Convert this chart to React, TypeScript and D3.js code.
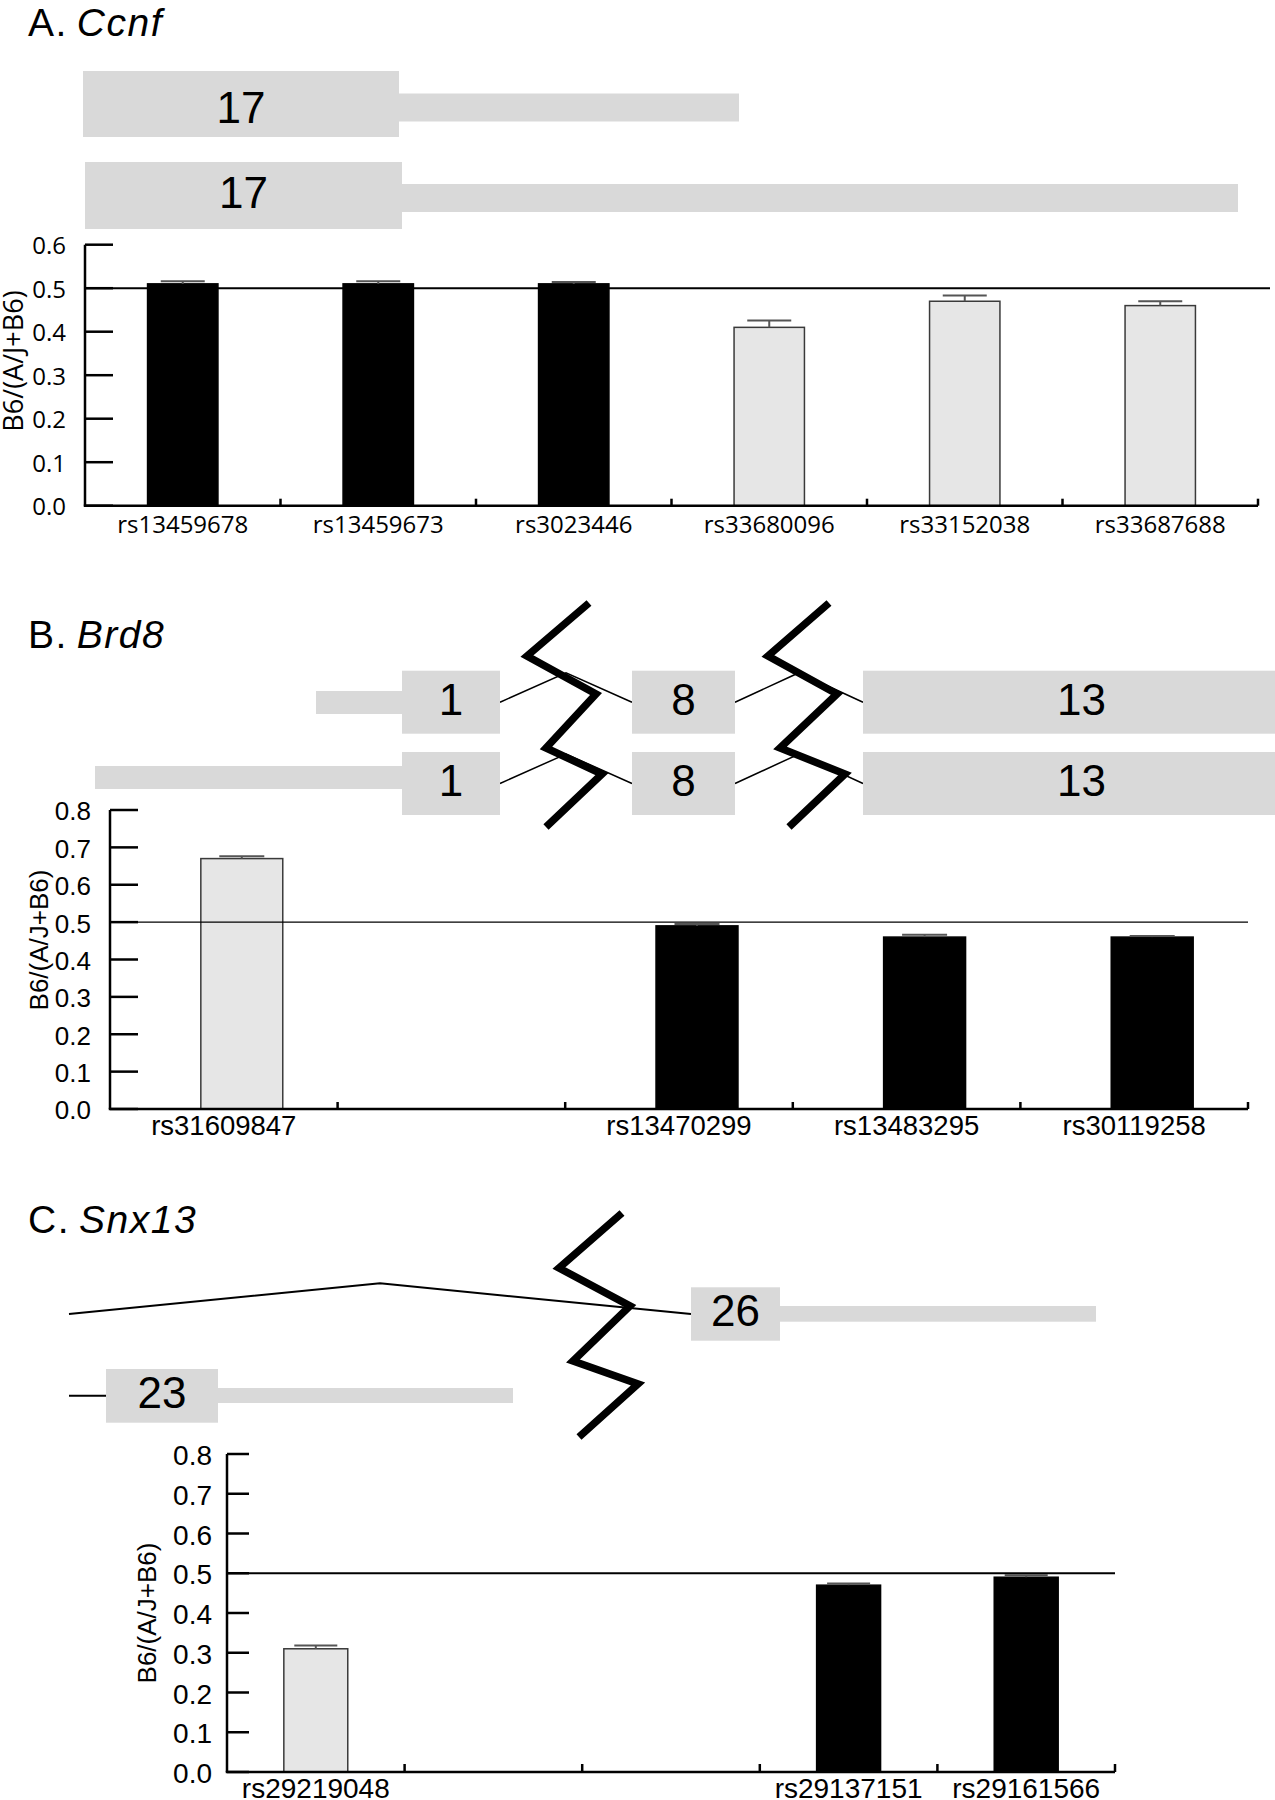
import React from "react";
import * as d3 from "d3";

// ---------------- data ----------------
// Panel A: Ccnf
const ccnfSnps = ["rs13459678", "rs13459673", "rs3023446", "rs33680096", "rs33152038", "rs33687688"];
const ccnfValues = [0.51, 0.51, 0.51, 0.41, 0.47, 0.46];
const ccnfErrors = [0.006, 0.006, 0.004, 0.016, 0.013, 0.01];
const ccnfTypes = ["dark", "dark", "dark", "light", "light", "light"];

// Panel B: Brd8
const brd8Snps = ["rs31609847", "", "rs13470299", "rs13483295", "rs30119258"];
const brd8Values = [0.67, null, 0.49, 0.46, 0.46];
const brd8Errors = [0.006, null, 0.005, 0.006, 0.003];
const brd8Types = ["light", null, "dark", "dark", "dark"];

// Panel C: Snx13
const snx13Snps = ["rs29219048", "", "", "rs29137151", "rs29161566"];
const snx13Values = [0.31, null, null, 0.47, 0.49];
const snx13Errors = [0.008, null, null, 0.004, 0.005];
const snx13Types = ["light", null, null, "dark", "dark"];

const yTicksA = [0, 0.1, 0.2, 0.3, 0.4, 0.5, 0.6];
const yTicksBC = [0, 0.1, 0.2, 0.3, 0.4, 0.5, 0.6, 0.7, 0.8];
const refValue = 0.5;
const yTitle = "B6/(A/J+B6)";

// gene models (track units)
const ccnfExons = [
  { row: 0, start: 83, end: 399, label: "17" },
  { row: 1, start: 85, end: 402, label: "17" },
];
const ccnfUtrs = [
  { row: 0, start: 399, end: 739 },
  { row: 1, start: 402, end: 1238 },
];

const brd8Exons = [
  { row: 0, start: 402, end: 500, label: "1" },
  { row: 0, start: 632, end: 735, label: "8" },
  { row: 0, start: 863, end: 1300, label: "13" },
  { row: 1, start: 402, end: 500, label: "1" },
  { row: 1, start: 632, end: 735, label: "8" },
  { row: 1, start: 863, end: 1300, label: "13" },
];
const brd8Utrs = [
  { row: 0, start: 316, end: 402 },
  { row: 1, start: 95, end: 402 },
];
const brd8Introns = [
  { row: 0, start: 500, end: 632 },
  { row: 0, start: 735, end: 863 },
  { row: 1, start: 500, end: 632 },
  { row: 1, start: 735, end: 863 },
];
const brd8Breaks = [
  [[589, 603], [527, 656], [596, 694], [546, 748], [602, 774], [546, 827]],
  [[829, 603], [768, 656], [837, 694], [780, 748], [845, 774], [789, 827]],
];

const snx13Exons = [
  { row: 0, start: 691, end: 780, label: "26" },
  { row: 1, start: 106, end: 218, label: "23" },
];
const snx13Utrs = [
  { row: 0, start: 780, end: 1096 },
  { row: 1, start: 218, end: 513 },
];
const snx13Introns = [{ row: 0, start: 69, end: 691 }];
const snx13Lines = [{ row: 1, start: 69, end: 106 }];
const snx13Breaks = [
  [[622, 1213], [559, 1268], [630, 1306], [573, 1361], [638, 1384], [579, 1437]],
];

// ---------------- layout ----------------
const W = 1275;
const H = 1800;
const trackX = d3.scaleLinear().domain([0, 1275]).range([0, W]);
const ARIAL = "'Liberation Sans', Arial, Helvetica, sans-serif";
const MYRIAD = "'Open Sans', 'Noto Sans', sans-serif";
const EXON_FILL = "#d9d9d9";

type BarProps = {
  snps: string[];
  values: (number | null)[];
  errors: (number | null)[];
  types: (string | null)[];
  yMax: number;
  yTicks: number[];
  x0: number;
  x1: number;
  yTop: number;
  yBottom: number;
  refEnd: number;
  refWidth: number;
  barFrac: number;
  barShift: number;
  yTickLen: number;
  xTickLen: number;
  labelGap: number;
  labelBaseline: number;
  font: string;
  tickSize: number;
  labelSize: number;
  titleX: number;
  titleY: number;
  titleSize: number;
  capWidth: number;
};

function BarChart(p: BarProps) {
  const y = d3.scaleLinear().domain([0, p.yMax]).range([p.yBottom, p.yTop]);
  const idx = d3.range(p.snps.length);
  const x = d3.scaleBand<number>().domain(idx).range([p.x0, p.x1]).padding(0);
  const bw = x.bandwidth();
  const barW = bw * p.barFrac;
  const fmt = d3.format(".1f");
  return (
    <g>
      {idx.map((i) => {
        const v = p.values[i];
        if (v == null) return null;
        const cx = (x(i) as number) + bw / 2 + p.barShift;
        const dark = p.types[i] === "dark";
        const e = p.errors[i] || 0;
        return (
          <g key={"bar" + i}>
            <rect
              x={cx - barW / 2}
              y={y(v)}
              width={barW}
              height={y(0) - y(v)}
              fill={dark ? "#000" : "#e6e6e6"}
              stroke={dark ? "#000" : "#3a3a3a"}
              strokeWidth={1.5}
            />
            <line x1={cx} x2={cx} y1={y(v)} y2={y(v + e)} stroke="#555" strokeWidth={2} />
            <line x1={cx - p.capWidth / 2} x2={cx + p.capWidth / 2} y1={y(v + e)} y2={y(v + e)} stroke="#555" strokeWidth={2} />
          </g>
        );
      })}
      <line x1={p.x0} x2={p.refEnd} y1={y(refValue)} y2={y(refValue)} stroke="#000" strokeWidth={p.refWidth} />
      <line x1={p.x0} x2={p.x0} y1={y(p.yMax)} y2={y(0)} stroke="#000" strokeWidth={2.5} />
      {p.yTicks.map((t) => (
        <g key={"yt" + t}>
          <line x1={p.x0} x2={p.x0 + p.yTickLen} y1={y(t)} y2={y(t)} stroke="#000" strokeWidth={2.5} />
          <text
            x={p.x0 - p.labelGap}
            y={y(t)}
            dy="0.4em"
            textAnchor="end"
            fontFamily={p.font}
            fontSize={p.tickSize}
            fill="#000"
          >
            {fmt(t)}
          </text>
        </g>
      ))}
      <line x1={p.x0 - 1.25} x2={p.x1} y1={y(0)} y2={y(0)} stroke="#000" strokeWidth={2.5} />
      {idx.map((i) => (
        <line
          key={"xt" + i}
          x1={(x(i) as number) + bw}
          x2={(x(i) as number) + bw}
          y1={y(0)}
          y2={y(0) - p.xTickLen}
          stroke="#000"
          strokeWidth={2.5}
        />
      ))}
      {idx.map((i) => (
        <text
          key={"xl" + i}
          x={(x(i) as number) + bw / 2}
          y={p.labelBaseline}
          textAnchor="middle"
          fontFamily={p.font}
          fontSize={p.labelSize}
          fill="#000"
        >
          {p.snps[i]}
        </text>
      ))}
      <text
        transform={`translate(${p.titleX},${p.titleY}) rotate(-90)`}
        textAnchor="middle"
        fontFamily={p.font}
        fontSize={p.titleSize}
        fill="#000"
      >
        {yTitle}
      </text>
    </g>
  );
}

type Row = { boxTop: number; boxH: number; utrTop: number; utrH: number; labelBase: number };

function GeneTrack({
  exons,
  utrs,
  introns = [],
  lines = [],
  breaks = [],
  rows,
  hatRise,
  intronWidth,
  labelSize,
}: {
  exons: { row: number; start: number; end: number; label: string }[];
  utrs: { row: number; start: number; end: number }[];
  introns?: { row: number; start: number; end: number }[];
  lines?: { row: number; start: number; end: number }[];
  breaks?: number[][][];
  rows: Row[];
  hatRise: number;
  intronWidth: number;
  labelSize: number;
}) {
  const mid = (r: Row) => r.boxTop + r.boxH / 2;
  const hat = d3.line();
  const zig = d3.line();
  return (
    <g>
      {utrs.map((u, i) => {
        const r = rows[u.row];
        return (
          <rect key={"u" + i} x={trackX(u.start)} y={r.utrTop} width={trackX(u.end) - trackX(u.start)} height={r.utrH} fill={EXON_FILL} />
        );
      })}
      {introns.map((n, i) => {
        const r = rows[n.row];
        const a = trackX(n.start);
        const b = trackX(n.end);
        const d = hat([
          [a, mid(r)],
          [(a + b) / 2, r.boxTop - hatRise],
          [b, mid(r)],
        ]) as string;
        return <path key={"n" + i} d={d} fill="none" stroke="#000" strokeWidth={intronWidth} />;
      })}
      {lines.map((n, i) => {
        const r = rows[n.row];
        return (
          <line key={"l" + i} x1={trackX(n.start)} x2={trackX(n.end)} y1={mid(r)} y2={mid(r)} stroke="#000" strokeWidth={intronWidth} />
        );
      })}
      {exons.map((e, i) => {
        const r = rows[e.row];
        const a = trackX(e.start);
        const b = trackX(e.end);
        return (
          <g key={"e" + i}>
            <rect x={a} y={r.boxTop} width={b - a} height={r.boxH} fill={EXON_FILL} />
            <text x={(a + Math.min(b, W + 25)) / 2} y={r.labelBase} textAnchor="middle" fontFamily={ARIAL} fontSize={labelSize} fill="#000">
              {e.label}
            </text>
          </g>
        );
      })}
      {breaks.map((pts, i) => (
        <path
          key={"z" + i}
          d={zig(pts.map((q) => [trackX(q[0]), q[1]]) as [number, number][]) as string}
          fill="none"
          stroke="#000"
          strokeWidth={7.5}
          strokeLinejoin="miter"
        />
      ))}
    </g>
  );
}

function Title({ x, y, letter, gene }: { x: number; y: number; letter: string; gene: string }) {
  return (
    <text x={x} y={y} fontFamily={ARIAL} fontSize={39} letterSpacing={1.5} fill="#000">
      <tspan>{letter}</tspan>
      <tspan dx={9} fontStyle="italic">
        {gene}
      </tspan>
    </text>
  );
}

export default function App() {
  return (
    <svg
      width={W}
      height={H}
      viewBox={`0 0 ${W} ${H}`}
      style={{ position: "absolute", left: 0, top: 0, background: "#fff" }}
    >
      <rect x={0} y={0} width={W} height={H} fill="#fff" />

      {/* ---------- Panel A ---------- */}
      <Title x={28} y={36} letter="A." gene="Ccnf" />
      <GeneTrack
        exons={ccnfExons}
        utrs={ccnfUtrs}
        rows={[
          { boxTop: 71, boxH: 66, utrTop: 93.5, utrH: 28, labelBase: 123 },
          { boxTop: 162, boxH: 67, utrTop: 184, utrH: 28, labelBase: 208 },
        ]}
        hatRise={0}
        intronWidth={1.5}
        labelSize={44}
      />
      <BarChart
        snps={ccnfSnps}
        values={ccnfValues}
        errors={ccnfErrors}
        types={ccnfTypes}
        yMax={0.6}
        yTicks={yTicksA}
        x0={85}
        x1={1258}
        yTop={244.7}
        yBottom={505.7}
        refEnd={1270}
        refWidth={2}
        barFrac={0.36}
        barShift={0}
        yTickLen={28}
        xTickLen={7}
        labelGap={19}
        labelBaseline={533}
        font={MYRIAD}
        tickSize={24}
        labelSize={24}
        titleX={23}
        titleY={361}
        titleSize={27}
        capWidth={44}
      />

      {/* ---------- Panel B ---------- */}
      <Title x={28} y={648} letter="B." gene="Brd8" />
      <GeneTrack
        exons={brd8Exons}
        utrs={brd8Utrs}
        introns={brd8Introns}
        breaks={brd8Breaks}
        rows={[
          { boxTop: 670.7, boxH: 63, utrTop: 691, utrH: 23, labelBase: 715 },
          { boxTop: 752, boxH: 63, utrTop: 766, utrH: 23, labelBase: 796 },
        ]}
        hatRise={-2}
        intronWidth={1.5}
        labelSize={44}
      />
      <BarChart
        snps={brd8Snps}
        values={brd8Values}
        errors={brd8Errors}
        types={brd8Types}
        yMax={0.8}
        yTicks={yTicksBC}
        x0={110}
        x1={1248}
        yTop={810}
        yBottom={1109}
        refEnd={1248}
        refWidth={1.3}
        barFrac={0.36}
        barShift={18}
        yTickLen={28}
        xTickLen={7}
        labelGap={19}
        labelBaseline={1135}
        font={ARIAL}
        tickSize={26}
        labelSize={27.5}
        titleX={48}
        titleY={940}
        titleSize={26}
        capWidth={45}
      />

      {/* ---------- Panel C ---------- */}
      <Title x={28} y={1233} letter="C." gene="Snx13" />
      <GeneTrack
        exons={snx13Exons}
        utrs={snx13Utrs}
        introns={snx13Introns}
        lines={snx13Lines}
        breaks={snx13Breaks}
        rows={[
          { boxTop: 1287.3, boxH: 53.4, utrTop: 1306, utrH: 15.7, labelBase: 1326 },
          { boxTop: 1369, boxH: 53.7, utrTop: 1388, utrH: 15, labelBase: 1408 },
        ]}
        hatRise={4}
        intronWidth={2}
        labelSize={44}
      />
      <BarChart
        snps={snx13Snps}
        values={snx13Values}
        errors={snx13Errors}
        types={snx13Types}
        yMax={0.8}
        yTicks={yTicksBC}
        x0={227}
        x1={1115}
        yTop={1454}
        yBottom={1772}
        refEnd={1115}
        refWidth={2.2}
        barFrac={0.36}
        barShift={0}
        yTickLen={22}
        xTickLen={8}
        labelGap={15}
        labelBaseline={1798}
        font={ARIAL}
        tickSize={28}
        labelSize={28}
        titleX={156}
        titleY={1613}
        titleSize={26}
        capWidth={43}
      />
    </svg>
  );
}
